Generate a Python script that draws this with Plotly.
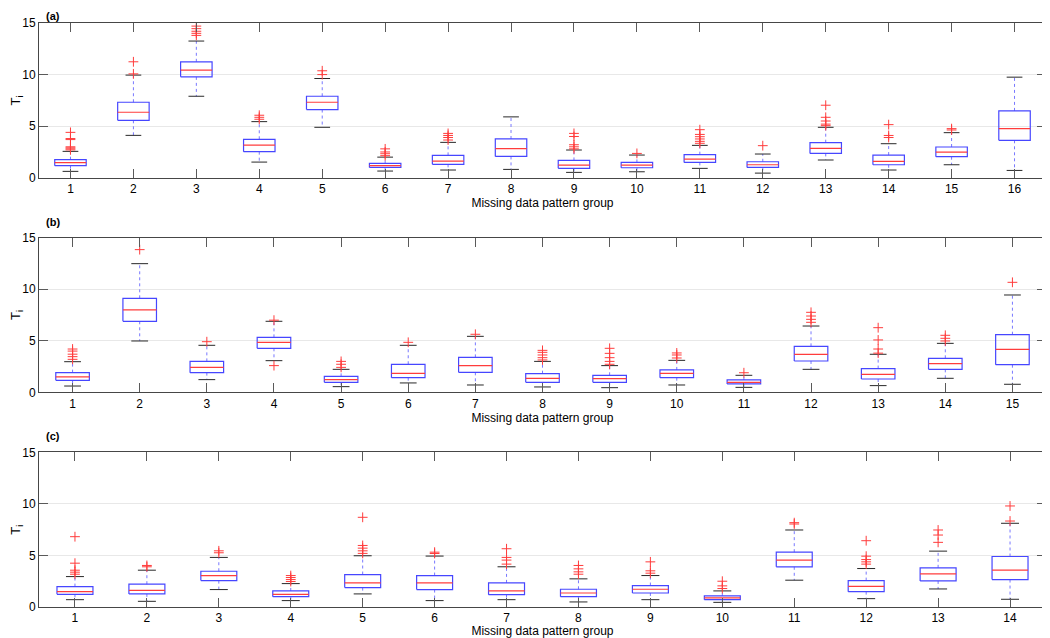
import plotly.graph_objects as go

# ---------------- data ----------------
# Panel (a): 16 groups
a_lower = [0.62, 4.11, 7.90, 1.52, 4.89, 0.65, 0.75, 0.81, 0.52, 0.58, 0.91, 0.45, 1.72, 0.75, 1.26, 0.71]
a_q1    = [1.17, 5.57, 9.78, 2.53, 6.61, 1.00, 1.30, 2.07, 0.91, 0.97, 1.49, 1.00, 2.36, 1.26, 2.04, 3.63]
a_med   = [1.46, 6.35, 10.43, 3.17, 7.32, 1.17, 1.62, 2.82, 1.23, 1.23, 1.81, 1.26, 2.85, 1.59, 2.49, 4.76]
a_q3    = [1.75, 7.32, 11.24, 3.73, 7.90, 1.39, 2.17, 3.76, 1.68, 1.49, 2.24, 1.55, 3.40, 2.20, 2.98, 6.48]
a_upper = [2.56, 9.95, 13.25, 5.44, 9.62, 2.00, 3.43, 5.90, 2.69, 2.20, 3.14, 2.30, 4.89, 3.30, 4.37, 9.75]
a_out = [
    [2.7, 2.8, 2.9, 3.0, 3.7, 3.8, 4.4],
    [10.07, 11.24],
    [13.8, 14.0, 14.2, 14.45, 14.7],
    [5.67, 5.86, 6.06],
    [10.0, 10.37],
    [2.14, 2.33, 2.5, 2.8],
    [3.66, 3.9, 4.1, 4.3],
    [],
    [2.8, 3.0, 3.2, 4.0, 4.3],
    [2.36],
    [3.34, 3.53, 3.76, 3.98, 4.2, 4.66],
    [3.11],
    [5.05, 5.2, 5.5, 5.86, 7.03],
    [3.9, 4.1, 5.15],
    [4.63, 4.76],
    [],
]

# Panel (b): 15 groups
b_lower = [0.61, 4.98, 1.23, 3.07, 0.55, 0.91, 0.71, 0.52, 0.45, 0.71, 0.48, 2.23, 0.65, 1.36, 0.78]
b_q1    = [1.16, 6.89, 1.91, 4.27, 0.97, 1.42, 1.94, 0.97, 0.97, 1.42, 0.81, 3.04, 1.29, 2.23, 2.68]
b_med   = [1.49, 7.99, 2.42, 4.85, 1.23, 1.84, 2.59, 1.36, 1.33, 1.84, 0.97, 3.69, 1.75, 2.78, 4.17]
b_q3    = [1.91, 9.12, 3.00, 5.33, 1.55, 2.72, 3.39, 1.81, 1.65, 2.17, 1.20, 4.46, 2.30, 3.30, 5.59]
b_upper = [2.97, 12.48, 4.56, 6.89, 2.23, 4.56, 5.43, 3.00, 2.59, 3.10, 1.65, 6.43, 3.69, 4.75, 9.44]
b_out = [
    [3.2, 3.46, 3.7, 4.0, 4.2],
    [13.84],
    [4.91],
    [7.0, 2.59],
    [2.42, 2.72, 3.0],
    [4.85],
    [5.63],
    [3.14, 3.36, 3.62, 3.88, 4.07],
    [2.72, 3.0, 3.36, 3.78, 4.27],
    [3.33, 3.62, 3.82],
    [1.9],
    [6.79, 7.08, 7.4, 7.76],
    [3.8, 4.2, 5.08, 6.27],
    [4.98, 5.24, 5.53],
    [10.67],
]

# Panel (c): 14 groups
c_lower = [0.71, 0.55, 1.69, 0.62, 1.27, 0.62, 0.71, 0.49, 0.71, 0.45, 2.60, 0.81, 1.75, 0.75]
c_q1    = [1.23, 1.27, 2.56, 1.00, 1.88, 1.69, 1.20, 1.00, 1.36, 0.71, 3.90, 1.49, 2.53, 2.66]
c_med   = [1.49, 1.62, 3.05, 1.23, 2.34, 2.34, 1.56, 1.36, 1.72, 0.88, 4.55, 2.01, 3.21, 3.57]
c_q3    = [1.98, 2.21, 3.47, 1.56, 3.15, 3.05, 2.34, 1.72, 2.08, 1.07, 5.32, 2.56, 3.80, 4.90]
c_upper = [2.95, 3.57, 4.81, 2.27, 4.97, 4.94, 3.90, 2.73, 3.05, 1.56, 7.47, 3.73, 5.42, 8.12]
c_out = [
    [3.18, 3.38, 3.57, 4.25, 6.82],
    [3.9, 4.03],
    [5.26, 5.45],
    [2.47, 2.66, 2.86, 3.05],
    [5.2, 5.45, 5.71, 5.97, 8.7],
    [5.19, 5.32],
    [4.16, 4.55, 4.81, 5.65],
    [3.18, 3.41, 3.7, 4.03],
    [3.28, 3.51, 4.38],
    [1.79, 2.05, 2.5],
    [8.05, 8.18],
    [4.16, 4.38, 4.6, 4.93, 6.43],
    [6.27, 6.98, 7.47],
    [8.34, 9.8],
]

panel_labels = ["(a)", "(b)", "(c)"]
x_title = "Missing data pattern group"
y_title = "T<sub>i</sub>"
y_ticks = [0, 5, 10, 15]

# ---------------- figure ----------------
BLUE = "rgb(70,70,255)"
WHISK = "rgb(120,120,255)"
RED = "rgb(255,60,60)"
FONT = "Liberation Sans, Arial, sans-serif"

panels = [
    (a_lower, a_q1, a_med, a_q3, a_upper, a_out),
    (b_lower, b_q1, b_med, b_q3, b_upper, b_out),
    (c_lower, c_q1, c_med, c_q3, c_upper, c_out),
]
domains = [[0.735, 1.0], [0.3676, 0.6324], [0.0, 0.2648]]

fig = go.Figure()
HW = 0.25   # box half width (data units)
CW = 0.125  # cap half width

for p, (lo, q1, md, q3, up, out) in enumerate(panels):
    xa = "x" if p == 0 else f"x{p+1}"
    ya = "y" if p == 0 else f"y{p+1}"
    n = len(md)
    bx, by, mx, my, wx, wy, cx, cy, ox, oy = [], [], [], [], [], [], [], [], [], []
    for i in range(n):
        x = i + 1
        bx += [x - HW, x + HW, x + HW, x - HW, x - HW, None]
        by += [q1[i], q1[i], q3[i], q3[i], q1[i], None]
        mx += [x - HW, x + HW, None]
        my += [md[i], md[i], None]
        wx += [x, x, None, x, x, None]
        wy += [q3[i], up[i], None, q1[i], lo[i], None]
        cx += [x - CW, x + CW, None, x - CW, x + CW, None]
        cy += [up[i], up[i], None, lo[i], lo[i], None]
        for v in out[i]:
            ox.append(x)
            oy.append(v)
    common = dict(xaxis=xa, yaxis=ya, showlegend=False, hoverinfo="skip")
    fig.add_trace(go.Scatter(x=wx, y=wy, mode="lines",
                             line=dict(color=WHISK, width=1, dash="dot"), **common))
    fig.add_trace(go.Scatter(x=cx, y=cy, mode="lines",
                             line=dict(color="rgb(40,40,40)", width=1), **common))
    fig.add_trace(go.Scatter(x=bx, y=by, mode="lines",
                             line=dict(color=BLUE, width=1.2), **common))
    fig.add_trace(go.Scatter(x=mx, y=my, mode="lines",
                             line=dict(color=RED, width=1.2), **common))
    fig.add_trace(go.Scatter(x=ox, y=oy, mode="markers",
                             marker=dict(symbol="cross-thin", size=7,
                                         line=dict(color=RED, width=1)), **common))

    axis_common = dict(showline=True, linecolor="rgb(70,70,70)", linewidth=1,
                       mirror="ticks", ticks="inside", ticklen=9,
                       tickcolor="rgb(90,90,90)", tickwidth=1,
                       tickfont=dict(family=FONT, size=12, color="black"),
                       zeroline=False)
    xkey = "xaxis" if p == 0 else f"xaxis{p+1}"
    ykey = "yaxis" if p == 0 else f"yaxis{p+1}"
    fig.update_layout(**{
        xkey: dict(domain=[0, 1], anchor=ya, range=[0.5, n + 0.5],
                   tickmode="array", tickvals=list(range(1, n + 1)),
                   ticktext=[str(k) for k in range(1, n + 1)],
                   showgrid=False,
                   title=dict(text=x_title, standoff=0,
                              font=dict(family=FONT, size=12, color="black")),
                   **axis_common),
        ykey: dict(domain=domains[p], anchor=xa, range=[0, 15],
                   tickmode="array", tickvals=y_ticks,
                   showgrid=True, gridcolor="rgb(232,232,232)", gridwidth=1,
                   title=dict(text=y_title, standoff=2,
                              font=dict(family=FONT, size=13, color="black")),
                   **axis_common),
    })

# panel letters (the first one is kept just inside the top edge of the figure)
label_y = [1.0, 0.6324, 0.2648]
label_shift = [15, 24, 24]
for p, lab in enumerate(panel_labels):
    fig.add_annotation(text=f"<b>{lab}</b>", xref="paper", yref="paper",
                       x=0.005, y=label_y[p], yshift=label_shift[p], xanchor="left",
                       yanchor="top", showarrow=False,
                       font=dict(family=FONT, size=11, color="black"))

# the page body adds an 8 px margin, so the figure is sized/offset to compensate
fig.update_layout(width=1042, height=630,
                  margin=dict(l=30, r=3, t=15, b=31),
                  paper_bgcolor="white", plot_bgcolor="white")

fig.write_html("out.html")
